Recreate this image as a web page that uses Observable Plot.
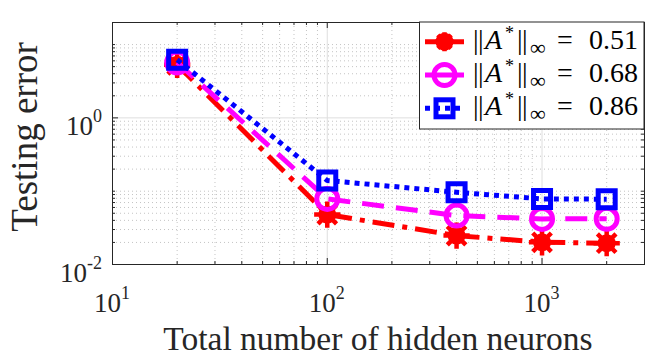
<!DOCTYPE html>
<html><head><meta charset="utf-8">
<script src="https://cdn.jsdelivr.net/npm/d3@7"></script>
<script src="https://cdn.jsdelivr.net/npm/@observablehq/plot@0.6"></script>
<style>
body{margin:0;background:#fff;}
</style>
</head><body><div id="chart"></div>
<script>
// ---- data ----
const neurons = [20, 100, 400, 1000, 2000];
const err051 = [5.3, 0.048, 0.0248, 0.0201, 0.0195];
const err068 = [5.7, 0.0785, 0.0465, 0.0419, 0.042];
const err086 = [6.2, 0.14, 0.0966, 0.0785, 0.0778];
const seriesNames = ["0.51", "0.68", "0.86"];
const xMajor = [10, 100, 1000];
const xMajorLabels = [["10","1"],["10","2"],["10","3"]];
const yMajor = [0.01, 1];
const yMajorLabels = [["10","-2"],["10","0"]];
const xMinor = [20,30,40,50,60,70,80,90,200,300,400,500,600,700,800,900,2000,3000];
const yMinor = [0.02,0.03,0.04,0.05,0.06,0.07,0.08,0.09,0.1,0.2,0.3,0.4,0.5,0.6,0.7,0.8,0.9,2,3,4,5,6,7,8,9,10];

const W = 664, H = 364, mL = 112, mR = 20, mT = 22, mB = 100;
const iw = W - mL - mR, ih = H - mT - mB;
const FONT = "'Liberation Serif', 'Times New Roman', serif";

const colors = ["#ff0000", "#ff00ff", "#0000ff"];
const dashes = ["22,8,5,8", "22,12", "5,5"];
const table = (vals) => neurons.map((n, i) => ({n, e: vals[i]}));
const sets = [err051, err068, err086].map(table);

const axisColor = "#262626";

function markersFor(k, data) {
  const c = colors[k];
  if (k === 0) return [
    Plot.dot(data, {x: "n", y: "e", r: 9, fill: c, stroke: "none"}),
    Plot.dot(data, {x: "n", y: "e", symbol: "plus", r: 8.5, stroke: c, strokeWidth: 4.5}),
    Plot.dot(data, {x: "n", y: "e", symbol: "times", r: 8.5, stroke: c, strokeWidth: 4.5})
  ];
  if (k === 1) return [Plot.dot(data, {x: "n", y: "e", symbol: "circle", r: 10.5, fill: "none", stroke: c, strokeWidth: 5})];
  return [Plot.dot(data, {x: "n", y: "e", symbol: "square", r: 9.6, fill: "none", stroke: c, strokeWidth: 5})];
}

const marks = [
  Plot.ruleX(xMinor, {stroke: "#c4c4c4", strokeDasharray: "1,3", strokeWidth: 1}),
  Plot.ruleY(yMinor, {stroke: "#c4c4c4", strokeDasharray: "1,3", strokeWidth: 1}),
  Plot.ruleX(xMajor, {stroke: "#dedede", strokeWidth: 1}),
  Plot.ruleY(yMajor, {stroke: "#dedede", strokeWidth: 1}),
  // inward ticks
  Plot.ruleX(xMajor, {stroke: axisColor, insetTop: ih - 6}),
  Plot.ruleX(xMajor, {stroke: axisColor, insetBottom: ih - 6}),
  Plot.ruleX(xMinor, {stroke: axisColor, insetTop: ih - 3}),
  Plot.ruleX(xMinor, {stroke: axisColor, insetBottom: ih - 3}),
  Plot.ruleY(yMajor, {stroke: axisColor, insetRight: iw - 6}),
  Plot.ruleY(yMajor, {stroke: axisColor, insetLeft: iw - 6}),
  Plot.ruleY(yMinor, {stroke: axisColor, insetRight: iw - 3}),
  Plot.ruleY(yMinor, {stroke: axisColor, insetLeft: iw - 3}),
  Plot.frame({stroke: axisColor, strokeWidth: 1})
];
sets.forEach((data, k) => {
  marks.push(Plot.line(data, {x: "n", y: "e", stroke: colors[k], strokeWidth: 5, strokeDasharray: dashes[k], strokeLinecap: "butt"}));
  marks.push(...markersFor(k, data));
});

const chart = Plot.plot({
  width: W, height: H,
  marginLeft: mL, marginRight: mR, marginTop: mT, marginBottom: mB,
  style: {background: "#fff", fontFamily: FONT},
  x: {type: "log", domain: [10, 3000], axis: null},
  y: {type: "log", domain: [0.01, 20], axis: null},
  marks
});
document.getElementById("chart").appendChild(chart);

const sx = chart.scale("x"), sy = chart.scale("y");
const svg = d3.select(chart);
const tc = "#262626";

// tick labels with superscripts
const g = svg.append("g").attr("fill", tc).style("font-family", FONT);
xMajor.forEach((v, i) => {
  const t = g.append("text").attr("x", sx.apply(v)).attr("y", mT + ih + 48)
    .attr("text-anchor", "middle").attr("font-size", 27);
  t.append("tspan").text(xMajorLabels[i][0]);
  t.append("tspan").attr("dy", -13).attr("font-size", 18).text(xMajorLabels[i][1]);
});
yMajor.forEach((v, i) => {
  const t = g.append("text").attr("x", mL - 10).attr("y", sy.apply(v) + 18)
    .attr("text-anchor", "end").attr("font-size", 27);
  t.append("tspan").text(yMajorLabels[i][0]);
  t.append("tspan").attr("dy", -13).attr("font-size", 18).text(yMajorLabels[i][1]);
});

// axis titles
g.append("text").attr("x", mL + iw / 2).attr("y", 350).attr("text-anchor", "middle")
  .attr("font-size", 33.5).text("Total number of hidden neurons");
g.append("text").attr("transform", `translate(37,137) rotate(-90)`).attr("text-anchor", "middle")
  .attr("font-size", 37).text("Testing error");

// legend
const lg = svg.append("g").style("font-family", FONT);
const lx0 = 419.5, ly0 = mT, lw = W - mR - lx0, lh = 107;
lg.append("rect").attr("x", lx0).attr("y", ly0).attr("width", lw).attr("height", lh)
  .attr("fill", "#fff").attr("stroke", axisColor).attr("stroke-width", 1);
const rowY = [41.7, 75, 108.3];
seriesNames.forEach((name, k) => {
  const y = rowY[k], c = colors[k], cx = 444.5;
  lg.append("line").attr("x1", 425).attr("x2", 464).attr("y1", y).attr("y2", y)
    .attr("stroke", c).attr("stroke-width", 5).attr("stroke-dasharray", k === 2 ? "5,5" : null);
  if (k === 0) {
    lg.append("circle").attr("cx", cx).attr("cy", y).attr("r", 9).attr("fill", c);
    ["M-9.5,0H9.5M0,-9.5V9.5", "M-6.7,-6.7L6.7,6.7M-6.7,6.7L6.7,-6.7"].forEach(p =>
      lg.append("path").attr("d", p).attr("transform", `translate(${cx},${y})`)
        .attr("stroke", c).attr("stroke-width", 4.5).attr("fill", "none"));
  } else if (k === 1) {
    lg.append("circle").attr("cx", cx).attr("cy", y).attr("r", 10.5).attr("fill", "none")
      .attr("stroke", c).attr("stroke-width", 5);
  } else {
    lg.append("rect").attr("x", cx - 8.5).attr("y", y - 8.5).attr("width", 17).attr("height", 17)
      .attr("fill", "none").attr("stroke", c).attr("stroke-width", 5);
  }
  const t = lg.append("text").attr("y", y + 7).attr("font-size", 28)
    .attr("fill", "#000").attr("text-anchor", "start");
  t.append("tspan").attr("x", 473).text("|");
  t.append("tspan").attr("x", 478).text("|");
  t.append("tspan").attr("x", 485).attr("font-style", "italic").text("A");
  t.append("tspan").attr("x", 505).attr("dy", -10).attr("font-size", 18).text("*");
  t.append("tspan").attr("x", 517).attr("dy", 10).text("|");
  t.append("tspan").attr("x", 522).text("|");
  t.append("tspan").attr("x", 530).attr("dy", 6).attr("font-size", 22).text("\u221e");
  t.append("tspan").attr("x", 557).attr("dy", -6).text("=");
  t.append("tspan").attr("x", 589).text(name);
});
</script>
</body></html>
